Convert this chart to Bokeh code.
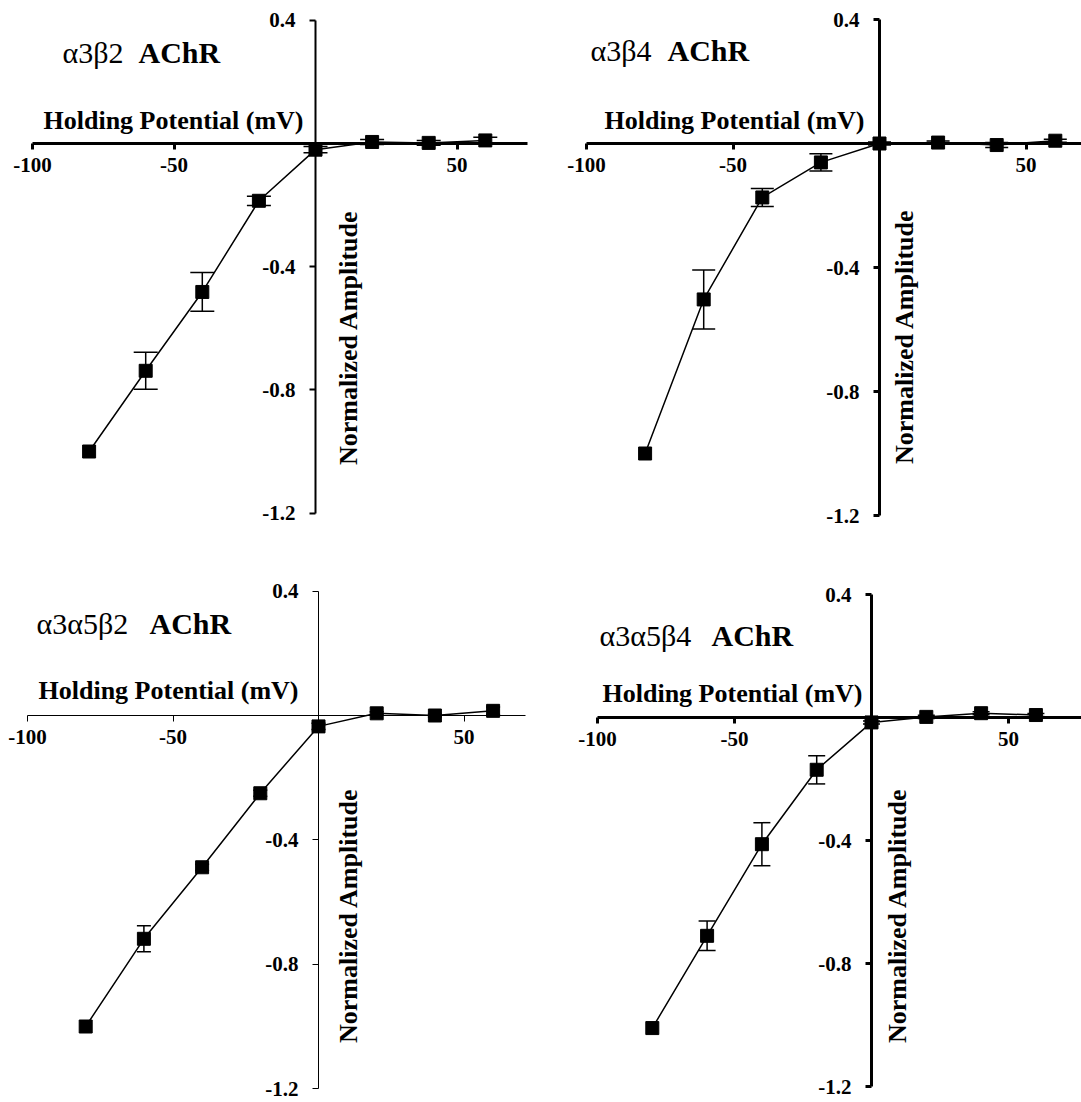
import math
from bokeh.plotting import figure
from bokeh.models import (LinearAxis, FixedTicker, Label, Whisker, TeeHead,
                          ColumnDataSource, Range1d)
from bokeh.layouts import column, row
from bokeh.embed import file_html
from bokeh.resources import INLINE

# ---------------- data ----------------
voltages = [-80, -60, -40, -20, 0, 20, 40, 60]

a3b2_amp = [-1.0, -0.738, -0.482, -0.186, -0.02, 0.005, 0.002, 0.01]
a3b2_err = [0.0, 0.06, 0.063, 0.015, 0.01, 0.008, 0.008, 0.01]

a3b4_amp = [-1.0, -0.503, -0.174, -0.061, 0.0, 0.003, -0.005, 0.009]
a3b4_err = [0.0, 0.095, 0.029, 0.028, 0.005, 0.005, 0.008, 0.005]

a3a5b2_amp = [-1.0, -0.718, -0.488, -0.25, -0.035, 0.007, 0.0, 0.015]
a3a5b2_err = [0.0, 0.042, 0.01, 0.01, 0.01, 0.005, 0.005, 0.012]

a3a5b4_amp = [-1.01, -0.71, -0.412, -0.17, -0.016, 0.002, 0.014, 0.008]
a3a5b4_err = [0.0, 0.048, 0.07, 0.046, 0.005, 0.005, 0.005, 0.005]

x_ticks = [-100, -50, 50]
x_tick_labels = ["-100", "-50", "50"]
y_ticks = [0.4, -0.4, -0.8, -1.2]
y_tick_labels = ["0.4", "-0.4", "-0.8", "-1.2"]

subtypes = ["\u03b13\u03b22", "\u03b13\u03b24", "\u03b13\u03b15\u03b22", "\u03b13\u03b15\u03b24"]
receptor = "AChR"
x_title = "Holding Potential (mV)"
y_title = "Normalized Amplitude"

FONT = "Liberation Serif"

# ---------------- layout calibration (pixels of the page) ----------------
panels = [
    dict(ox=0, oy=0, w=540, h=551, x0=315, sx=2.83, y0=143, sy=308,
         xend=75, axw=3, ayw=2, cap=24,
         amp=a3b2_amp, err=a3b2_err, name=subtypes[0],
         t_alpha=(62, 52), t_r=(138, 52), hp=(303, 134), na=(348, 337)),
    dict(ox=540, oy=0, w=541, h=551, x0=879, sx=2.93, y0=143, sy=310,
         xend=None, axw=3, ayw=3, cap=23,
         amp=a3b4_amp, err=a3b4_err, name=subtypes[1],
         t_alpha=(590, 50), t_r=(667, 50), hp=(864, 134), na=(904, 336)),
    dict(ox=0, oy=551, w=540, h=551, x0=318, sx=2.91, y0=715, sy=311,
         xend=71, axw=1, ayw=1, cap=14,
         amp=a3a5b2_amp, err=a3a5b2_err, name=subtypes[2],
         t_alpha=(36, 623), t_r=(149, 623), hp=(298, 704), na=(348, 915)),
    dict(ox=540, oy=551, w=541, h=551, x0=871, sx=2.74, y0=717, sy=307.5,
         xend=None, axw=3, ayw=3, cap=17,
         amp=a3a5b4_amp, err=a3a5b4_err, name=subtypes[3],
         t_alpha=(599, 635), t_r=(711, 635), hp=(862, 707), na=(897, 915)),
]


def axis_style(width):
    return dict(axis_line_width=width, major_tick_line_width=width,
                major_tick_in=0, major_tick_out=6, minor_tick_out=0, minor_tick_in=0,
                major_label_text_font=FONT, major_label_text_font_style="bold",
                major_label_text_font_size="21px", major_label_text_color="black",
                axis_line_color="black", major_tick_line_color="black")


def make_panel(c):
    px2x = lambda ax: (ax - c["x0"]) / c["sx"]
    px2y = lambda ay: (c["y0"] - ay) / c["sy"]
    xr = Range1d(px2x(c["ox"]), px2x(c["ox"] + c["w"]))
    yr = Range1d(px2y(c["oy"] + c["h"]), px2y(c["oy"]))
    p = figure(width=c["w"], height=c["h"], x_range=xr, y_range=yr,
               x_axis_type=None, y_axis_type=None, toolbar_location=None,
               output_backend="svg", min_border=0, outline_line_color=None,
               background_fill_color="white", border_fill_color="white")
    p.xgrid.visible = False
    p.ygrid.visible = False

    xend = c["xend"] if c["xend"] is not None else xr.end
    xaxis = LinearAxis(fixed_location=0, bounds=(-100, xend),
                       ticker=FixedTicker(ticks=x_ticks),
                       major_label_overrides={t: l for t, l in zip(x_ticks, x_tick_labels)},
                       major_label_standoff=8, **axis_style(c["axw"]))
    p.add_layout(xaxis, "below")
    yaxis = LinearAxis(fixed_location=0, bounds=(-1.2, 0.4),
                       ticker=FixedTicker(ticks=y_ticks),
                       major_label_overrides={t: l for t, l in zip(y_ticks, y_tick_labels)},
                       major_label_standoff=14, **axis_style(c["ayw"]))
    p.add_layout(yaxis, "left")

    src = ColumnDataSource(dict(v=voltages, a=c["amp"]))
    keep = [i for i, e in enumerate(c["err"]) if e > 0]
    wsrc = ColumnDataSource(dict(
        v=[voltages[i] for i in keep],
        up=[c["amp"][i] + c["err"][i] for i in keep],
        lo=[c["amp"][i] - c["err"][i] for i in keep]))
    p.add_layout(Whisker(source=wsrc, base="v", upper="up", lower="lo",
                         dimension="height", line_color="black", line_width=1.5,
                         upper_head=TeeHead(size=c["cap"], line_width=1.5, line_color="black"),
                         lower_head=TeeHead(size=c["cap"], line_width=1.5, line_color="black")))
    p.line("v", "a", source=src, line_color="black", line_width=1.5)
    p.scatter("v", "a", source=src, marker="square", size=13,
              fill_color="black", line_color="black")

    # titles and axis titles
    p.add_layout(Label(x=px2x(c["t_alpha"][0]), y=px2y(c["t_alpha"][1]), text=c["name"],
                       text_font=FONT, text_font_size="30px", text_font_style="normal",
                       text_align="left", text_baseline="middle", text_color="black"))
    p.add_layout(Label(x=px2x(c["t_r"][0]), y=px2y(c["t_r"][1]), text=receptor,
                       text_font=FONT, text_font_size="30px", text_font_style="bold",
                       text_align="left", text_baseline="middle", text_color="black"))
    p.add_layout(Label(x=px2x(c["hp"][0]), y=px2y(c["hp"][1]), text=x_title,
                       text_font=FONT, text_font_size="26px", text_font_style="bold",
                       text_align="right", text_baseline="bottom", text_color="black"))
    p.add_layout(Label(x=px2x(c["na"][0]), y=px2y(c["na"][1]), text=y_title,
                       angle=math.pi / 2,
                       text_font=FONT, text_font_size="26px", text_font_style="bold",
                       text_align="center", text_baseline="middle", text_color="black"))
    return p


figs = [make_panel(c) for c in panels]
layout = column(row(figs[0], figs[1]), row(figs[2], figs[3]))

open("out.html", "w").write(file_html(layout, INLINE))
